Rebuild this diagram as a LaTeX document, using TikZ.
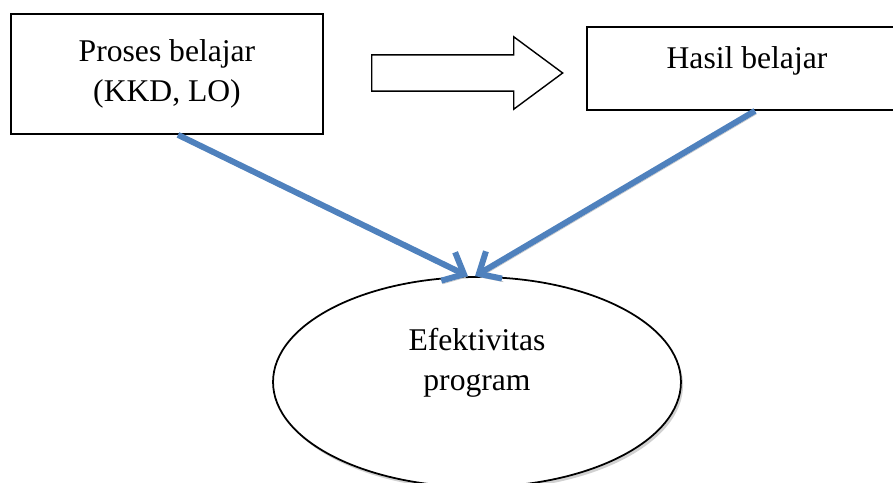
\documentclass[tikz,border=0pt]{standalone}
\usepackage{fontspec}
\setmainfont{Liberation Serif}
\usetikzlibrary{shapes.geometric,shapes.arrows,arrows.meta,shadows}
\definecolor{linkblue}{RGB}{79,129,189}
\begin{document}
\begin{tikzpicture}[x=0.02cm,y=-0.02cm]
\tikzstyle{box}=[rectangle,draw,line width=1pt,align=center,font=\fontsize{18}{23}\selectfont];
\tikzstyle{goal}=[ellipse,draw,fill=white,line width=1pt,align=center,font=\fontsize{18}{23}\selectfont,minimum width=8.16cm,minimum height=4.2cm,text depth=0.9cm,drop shadow={shadow xshift=1.2pt,shadow yshift=-1.8pt,fill=black!30,opacity=0.6}];
\tikzstyle{flow}=[single arrow,draw,line width=0.8pt,inner sep=0.35cm,minimum height=3.82cm,single arrow head extend=0.36cm,single arrow tip angle=73];
\tikzstyle{link}=[draw=linkblue,line width=3.4pt,-{Straight Barb[length=10pt,width=18pt]},general shadow={draw=black!22,fill=none,shadow xshift=0.8pt,shadow yshift=-1.8pt}];
\useasboundingbox (0,0) rectangle (893,483);
\node [box,minimum width=6.24cm,minimum height=2.4cm] (v1) at (167,74) {Proses belajar\\(KKD, LO)};
\node [box,minimum width=6.4cm,minimum height=1.66cm,text height=0.45cm,text depth=0.45cm] (v2) at (747,68.5) {Hasil belajar};
\node [flow,anchor=tail] (v4) at (371,73) {};
\node [goal] (v3) at (477,382) {Efektivitas\\program};
\draw [link] ([xshift=0.22cm]v1.south) -- ([xshift=-0.18cm]v3.north);
\draw [link] ([xshift=0.16cm]v2.south) -- ([xshift=-0.04cm]v3.north);
\end{tikzpicture}
\end{document}
